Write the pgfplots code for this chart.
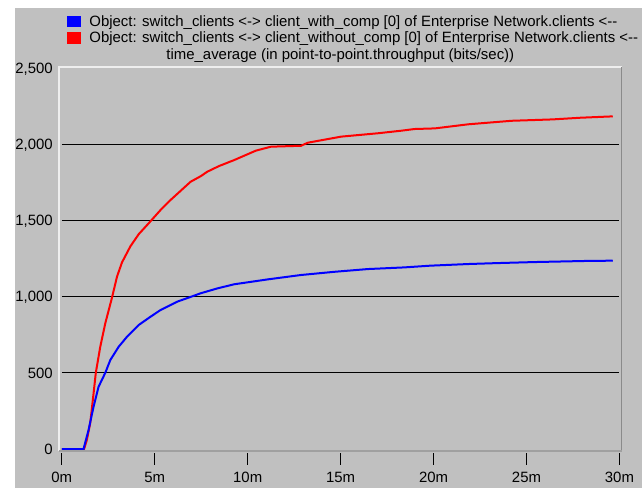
\documentclass[border=0pt]{standalone}
\usepackage{fontspec}
\setmainfont{Liberation Sans}
\usepackage{pgfplots}
\pgfplotsset{compat=1.18}
\definecolor{bggrey}{HTML}{C0C0C0}
\definecolor{framelight}{HTML}{EEEEEE}
\definecolor{framedark}{HTML}{8A8A8A}
\definecolor{framebot}{HTML}{A0A0A0}
\begin{document}
\fontsize{11.2pt}{13.3pt}\selectfont
\begin{tikzpicture}
\path[use as bounding box, fill=white] (0,0) rectangle (481.5pt,366pt);
\fill[bggrey] (11.25pt,0) rectangle (481.5pt,360pt);
\begin{axis}[
  at={(44.25pt,27.75pt)}, anchor=south west,
  scale only axis, width=422pt, height=288pt,
  xmin=-0.15, xmax=30.12, ymin=-13, ymax=2507,
  clip=false,
  axis line style={draw=none},
  xtick={0,5,10,15,20,25,30},
  xticklabels={0m,5m,10m,15m,20m,25m,30m},
  ytick={0,500,1000,1500,2000,2500},
  yticklabels={0,500,{1,000},{1,500},{2,000},{2,500}},
  xtick pos=left,
  ytick style={draw=none},
  tick align=inside, major tick length=9pt,
  xtick style={black, line width=0.8pt, yshift=-10.5pt},
  xticklabel style={anchor=base, yshift=-23.8pt, inner sep=0pt},
  yticklabel style={anchor=base east, inner sep=0pt, xshift=-4.5pt, yshift=-4pt},
  title={time\_average (in point-to-point.throughput (bits/sec))},
  every axis title/.style={at={(0.5,1)}, anchor=base, yshift=5.25pt, inner sep=0pt},
  legend style={draw=none, fill=none, inner sep=0pt, outer sep=0pt,
    at={(axis description cs:0,1)}, anchor=south west, xshift=5.8pt, yshift=15.2pt,
    nodes={inner sep=0pt, text height=10.3pt, text depth=3pt},
    row sep=-1pt,
    /tikz/every odd column/.append style={column sep=6.5pt}},
  legend cell align=left,
  reverse legend,
  legend image code/.code={\fill[#1,draw=none] (0pt,-4.4pt) rectangle (10.5pt,4.4pt);},
]
\addplot[black, line width=0.9pt, forget plot] coordinates {(0,500) (30,500)};
\addplot[black, line width=0.9pt, forget plot] coordinates {(0,1000) (30,1000)};
\addplot[black, line width=0.9pt, forget plot] coordinates {(0,1500) (30,1500)};
\addplot[black, line width=0.9pt, forget plot] coordinates {(0,2000) (30,2000)};
\addplot[red, line width=1.5pt] coordinates {
(0,0) (1.2,0) (1.35,60) (1.53,170) (1.71,365) (1.83,500) (2.07,671) (2.34,825)
(2.70,993) (2.97,1131) (3.24,1225) (3.69,1330) (4.14,1410) (4.68,1482) (5.31,1568)
(5.85,1634) (6.93,1754) (7.47,1790) (7.83,1820) (8.46,1857) (9.27,1896) (10.44,1958)
(11.25,1984) (12.87,1990) (13.23,2010) (15.03,2050) (17.0,2072) (18.27,2089)
(18.98,2100) (20.07,2104) (21.87,2131) (24.2,2154) (26.4,2163) (27.9,2174) (29.64,2183)
};
\addlegendentry{Object: switch\_clients <-> client\_without\_comp [0] of Enterprise Network.clients <-{}-}
\addplot[blue, line width=1.5pt] coordinates {
(0,0) (1.17,0) (1.44,125) (1.71,278) (1.98,409) (2.34,500) (2.61,584) (3.06,671)
(3.51,737) (4.14,814) (4.77,868) (5.31,912) (6.21,967) (7.11,1006) (7.47,1022)
(8.37,1054) (9.27,1081) (11.07,1113) (12.87,1142) (14.67,1163) (16.47,1181)
(18.45,1192) (19.8,1203) (21.87,1214) (23.4,1220) (25.46,1227) (28.16,1234) (29.64,1236)
};
\addlegendentry{Object: switch\_clients <-> client\_with\_comp [0] of Enterprise Network.clients <-{}-}
\draw[framelight, line width=1pt] (rel axis cs:0,0) -- (rel axis cs:0,1) -- (rel axis cs:1,1);
\draw[framedark, line width=1.2pt] (rel axis cs:1,1) -- (rel axis cs:1,0);
\draw[framebot, line width=1pt] (rel axis cs:1,0) -- (rel axis cs:0,0);
\end{axis}
\end{tikzpicture}
\end{document}
